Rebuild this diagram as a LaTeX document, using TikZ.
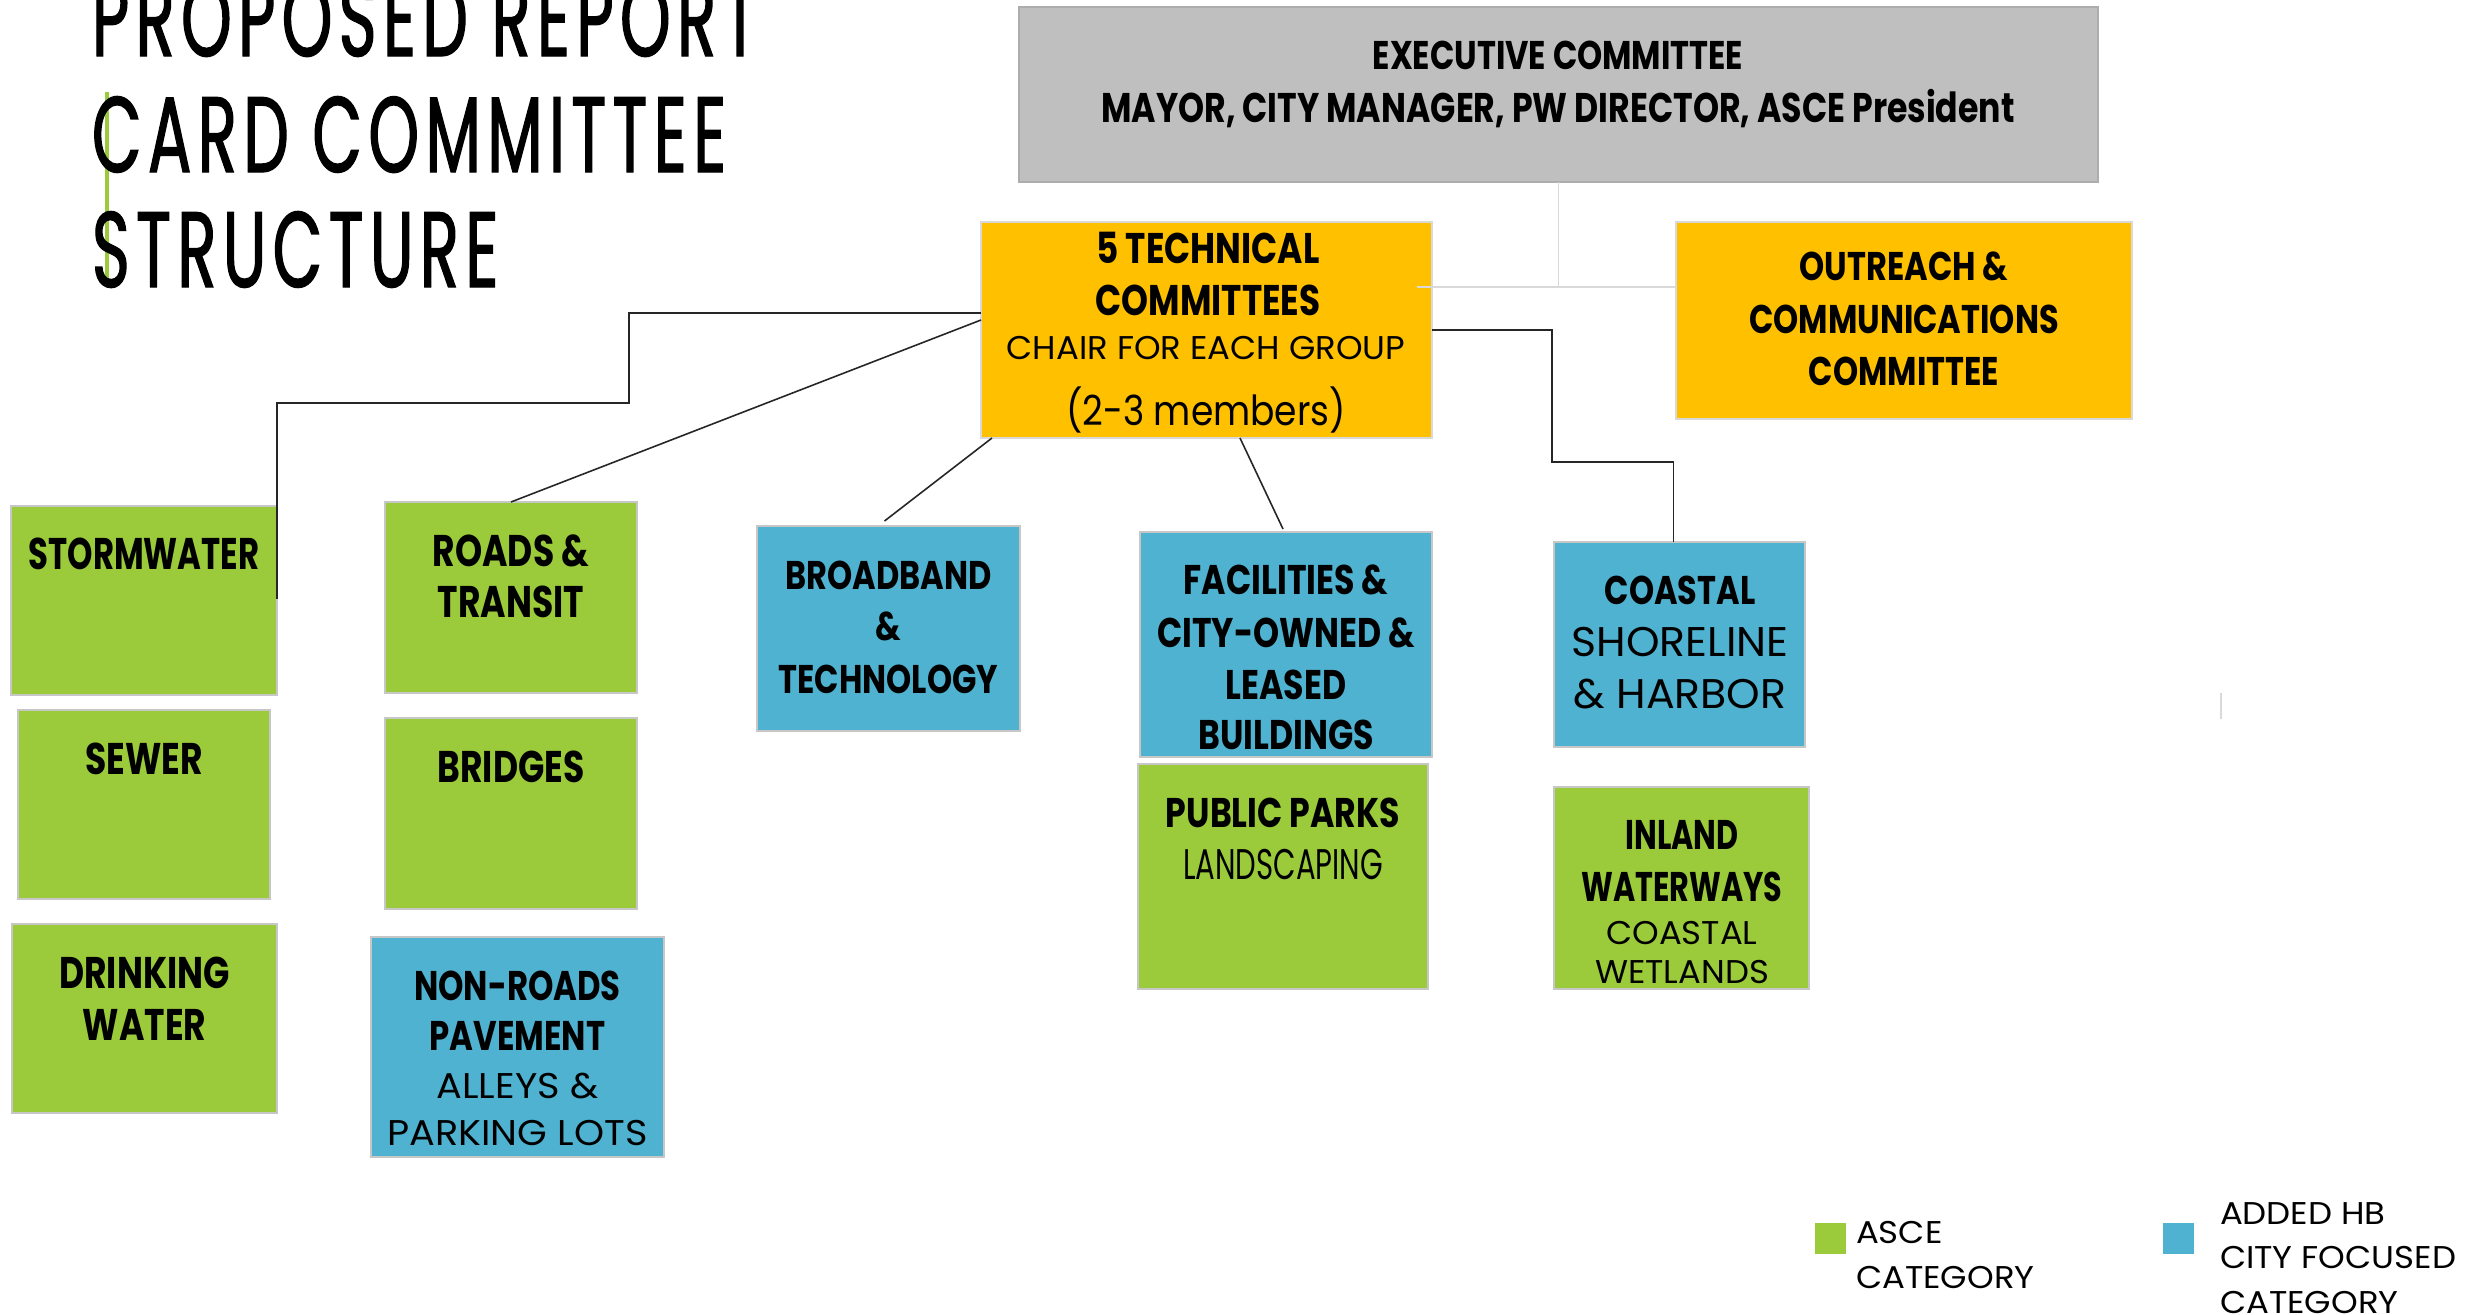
\documentclass[tikz,border=0pt]{standalone}
\usepackage{fontspec}
\usetikzlibrary{calc,fit}
\setmainfont{Poppins}
\newfontfamily\ftitle[FakeStretch=0.6,LetterSpace=6,FakeBold=1.2]{Poppins}
\newfontfamily\fbc[FakeStretch=0.8]{Poppins}
\newfontfamily\fbw[FakeStretch=0.78]{Poppins}
\newfontfamily\fbn[FakeStretch=0.73]{Poppins}
\newfontfamily\frc[FakeStretch=1.03]{Poppins}
\newfontfamily\frn[FakeStretch=0.68]{Poppins}
\newfontfamily\frw[FakeStretch=1.07]{Poppins}
\newfontfamily\frm[FakeStretch=0.87]{Poppins}
\newfontfamily\frl[FakeStretch=1.08]{Poppins}
\newcommand\capsz[1]{\fontsize{\fpeval{#1*0.4064}pt}{0pt}\selectfont}
\definecolor{asceg}{HTML}{9BCB3A}
\definecolor{cityb}{HTML}{4FB2D0}
\definecolor{orangey}{HTML}{FFC000}
\definecolor{execg}{HTML}{BFBFBF}
\definecolor{thinline}{HTML}{D9D9D9}
\tikzset{
  box/.style={rectangle, draw=black!22, line width=0.35pt, inner sep=0pt, outer sep=0pt},
  asce/.style={box, fill=asceg},
  city/.style={box, fill=cityb},
  orng/.style={box, fill=orangey, draw=black!15},
  exe/.style={box, fill=execg, draw=black!32},
  lbl/.style={anchor=base, inner sep=0pt, outer sep=0pt},
  lblw/.style={anchor=base west, inner sep=0pt, outer sep=0pt},
  conn/.style={draw=black!85, line width=0.45pt},
  soft/.style={draw=thinline, line width=0.45pt},
  bc/.style={font=\fbc\bfseries},
  bw/.style={font=\fbw\bfseries},
  bn/.style={font=\fbn\bfseries},
  rc/.style={font=\frc},
  rn/.style={font=\frn},
  rw/.style={font=\frw},
  rm/.style={font=\frm},
  rl/.style={font=\frl},
}
\begin{document}
\begin{tikzpicture}[x=0.01cm,y=-0.01cm]
\useasboundingbox (0,0) rectangle (2466,1315);
\clip (0,0) rectangle (2466,1315);
\fill[white] (0,0) rectangle (2466,1315);

% title
\draw[asceg, line width=0.9pt] (107,92) -- (107,278);
\node[lblw, font=\ftitle] (ttl1) at (92,56) {\capsz{75}PROPOSED REPORT};
\node[lblw, font=\ftitle] (ttl2) at (92,172) {\capsz{75}CARD COMMITTEE};
\node[lblw, font=\ftitle] (ttl3) at (92,287) {\capsz{75}STRUCTURE};

% boxes
\node[exe, fit={(1019,7)(2098,182)}] (exec) {};
\node[orng, fit={(981,222)(1432,438)}] (tech) {};
\node[orng, fit={(1676,222)(2132,419)}] (out) {};
\node[asce, fit={(11,506)(277,695)}] (storm) {};
\node[asce, fit={(18,710)(270,899)}] (sewer) {};
\node[asce, fit={(12,924)(277,1113)}] (drink) {};
\node[asce, fit={(385,502)(637,693)}] (roads) {};
\node[asce, fit={(385,718)(637,909)}] (bridge) {};
\node[city, fit={(371,937)(664,1157)}] (nonroad) {};
\node[city, fit={(757,526)(1020,731)}] (bb) {};
\node[city, fit={(1140,532)(1432,757)}] (fac) {};
\node[asce, fit={(1138,764)(1428,989)}] (parks) {};
\node[city, fit={(1554,542)(1805,747)}] (coast) {};
\node[asce, fit={(1554,787)(1809,989)}] (inland) {};

% connectors
\draw[soft] (exec.south) -- ++(0,105) coordinate (xj);
\draw[soft] ($(tech.east)+(-15,-43)$) -- ($(out.west)+(0,-33.5)$);
\draw[conn] ($(tech.west)+(0,-17)$) -- ++(-352,0) -- ++(0,90) -| ($(storm.north east)+(0,93)$);
\draw[conn] ($(tech.west)+(0,-10)$) -- (roads.north);
\draw[conn] ($(tech.south west)+(11,0)$) -- ($(bb.north)+(-4,-5)$);
\draw[conn] ($(tech.south west)+(259,0)$) -- ($(fac.north)+(-3,-3)$);
\draw[conn] (tech.east) -- ++(120,0) -- ++(0,132) -| ($(coast.north)+(-6,0)$);
\draw[soft] (2221,693) -- (2221,719);

% texts
\node[lbl, bc] (e1) at (1558,70) {\capsz{28}EXECUTIVE COMMITTEE};
\node[lbl, bc] (e2) at (1558,122) {\capsz{29}MAYOR, CITY MANAGER, PW DIRECTOR, ASCE President};

\node[lbl, bc] (t1) at (1208,263) {\capsz{30}5 TECHNICAL};
\node[lbl, bc] (t2) at (1208,315) {\capsz{30}COMMITTEES};
\node[lbl, rc] (t3) at (1206,359) {\capsz{23}CHAIR FOR EACH GROUP};
\node[lbl, rm] (t4) at (1206,425) {\capsz{29}(2-3 members)};

\node[lbl, bc] (o1) at (1904,280) {\capsz{28}OUTREACH \&};
\node[lbl, bc] (o2) at (1904,333) {\capsz{28}COMMUNICATIONS};
\node[lbl, bc] (o3) at (1904,385) {\capsz{28}COMMITTEE};

\node[lbl, bn] (s1) at (144,569) {\capsz{31}STORMWATER};
\node[lbl, bw] (w1) at (144,774) {\capsz{31}SEWER};
\node[lbl, bw] (d1) at (144.5,988) {\capsz{31}DRINKING};
\node[lbl, bw] (d2) at (144.5,1040) {\capsz{31}WATER};
\node[lbl, bw] (r1) at (511,566) {\capsz{31}ROADS \&};
\node[lbl, bw] (r2) at (511,617) {\capsz{31}TRANSIT};
\node[lbl, bw] (b1) at (511,782) {\capsz{31}BRIDGES};
\node[lbl, bw] (n1) at (517.5,1000) {\capsz{29}NON-ROADS};
\node[lbl, bw] (n2) at (517.5,1050) {\capsz{29}PAVEMENT};
\node[lbl, rw] (n3) at (517.5,1098) {\capsz{25}ALLEYS \&};
\node[lbl, rw] (n4) at (517.5,1145) {\capsz{25}PARKING LOTS};

\node[lbl, bc] (bb1) at (888.5,589) {\capsz{28}BROADBAND};
\node[lbl, bc] (bb2) at (888.5,640) {\capsz{28}\&};
\node[lbl, bc] (bb3) at (888.5,693) {\capsz{28}TECHNOLOGY};

\node[lbl, bc] (f1) at (1286,594) {\capsz{29}FACILITIES \&};
\node[lbl, bc] (f2) at (1286,647) {\capsz{29}CITY-OWNED \&};
\node[lbl, bc] (f3) at (1286,699) {\capsz{29}LEASED};
\node[lbl, bc] (f4) at (1286,749) {\capsz{29}BUILDINGS};

\node[lbl, bc] (p1) at (1283,827) {\capsz{29}PUBLIC PARKS};
\node[lbl, rn] (p2) at (1283,879) {\capsz{30}LANDSCAPING};

\node[lbl, bc] (c1) at (1680,604) {\capsz{28}COASTAL};
\node[lbl, rc] (c2) at (1680,656) {\capsz{29}SHORELINE};
\node[lbl, rc] (c3) at (1680,708) {\capsz{29}\& HARBOR};

\node[lbl, bn] (i1) at (1682,849) {\capsz{29}INLAND};
\node[lbl, bn] (i2) at (1682,901) {\capsz{29}WATERWAYS};
\node[lbl, rc] (i3) at (1682,944) {\capsz{23}COASTAL};
\node[lbl, rc] (i4) at (1682,983) {\capsz{23}WETLANDS};

% legend
\node[asce, draw=none, fit={(1815,1223)(1846,1254)}] (lg1) {};
\node[city, draw=none, fit={(2163,1223)(2194,1254)}] (lg2) {};
\node[lblw, rl] (l1) at (1856,1243) {\capsz{22}ASCE};
\node[lblw, rl] (l2) at (1856,1288) {\capsz{22}CATEGORY};
\node[lblw, rl] (l3) at (2220,1224) {\capsz{22}ADDED HB};
\node[lblw, rl] (l4) at (2220,1268) {\capsz{22}CITY FOCUSED};
\node[lblw, rl] (l5) at (2220,1313) {\capsz{22}CATEGORY};
\end{tikzpicture}
\end{document}
